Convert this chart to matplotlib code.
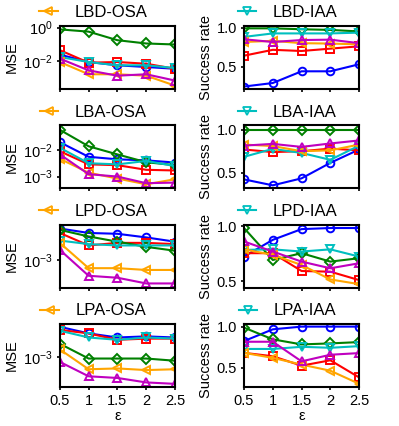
import matplotlib
matplotlib.use("Agg")
import matplotlib.pyplot as plt
from matplotlib.lines import Line2D
from matplotlib.ticker import NullLocator

plt.rcParams["font.family"] = ["Liberation Sans", "DejaVu Sans"]
plt.rcParams["mathtext.fontset"] = "custom"
plt.rcParams["mathtext.rm"] = "Liberation Sans"
plt.rcParams["mathtext.it"] = "Liberation Sans:italic"
plt.rcParams["mathtext.bf"] = "Liberation Sans:bold"

eps = [0.5, 1, 1.5, 2, 2.5]

# ---------- data ----------
# order in each dict: blue, red, green, cyan, orange, magenta
lbd_osa = {
    "blue": [0.025, 0.0091, 0.0058, 0.0046, 0.0036],
    "red": [0.046, 0.0083, 0.0091, 0.0072, 0.0036],
    "green": [0.79, 0.58, 0.18, 0.115, 0.10],
    "cyan": [0.018, 0.0091, 0.0058, 0.0058, 0.0040],
    "orange": [0.0091, 0.0017, 0.0017, 0.0014, 0.00036],
    "magenta": [0.0145, 0.0029, 0.0014, 0.0017, 0.00072],
}
lbd_iaa = {
    "blue": [0.245, 0.29, 0.44, 0.44, 0.53],
    "red": [0.64, 0.715, 0.70, 0.73, 0.76],
    "green": [0.99, 0.99, 0.978, 0.97, 0.95],
    "cyan": [0.88, 0.925, 0.925, 0.925, 0.935],
    "orange": [0.815, 0.83, 0.80, 0.795, 0.785],
    "magenta": [0.85, 0.815, 0.84, 0.845, 0.80],
}
lba_osa = {
    "blue": [0.020, 0.0056, 0.0045, 0.0041, 0.0034],
    "red": [0.0091, 0.0029, 0.0027, 0.0018, 0.0017],
    "green": [0.059, 0.014, 0.0069, 0.0035, 0.0027],
    "cyan": [0.0123, 0.0032, 0.0029, 0.0039, 0.0025],
    "orange": [0.0047, 0.0014, 0.00084, 0.00051, 0.00079],
    "magenta": [0.0069, 0.00123, 0.0010, 0.00056, 0.00059],
}
lba_iaa = {
    "blue": [0.423, 0.354, 0.435, 0.615, 0.77],
    "red": [0.77, 0.74, 0.75, 0.78, 0.76],
    "green": [1.0, 1.0, 1.0, 1.0, 1.0],
    "cyan": [0.685, 0.777, 0.73, 0.65, 0.815],
    "orange": [0.827, 0.81, 0.75, 0.76, 0.827],
    "magenta": [0.815, 0.835, 0.80, 0.84, 0.875],
}
lpd_osa = {
    "blue": [0.0036, 0.0030, 0.0029, 0.0025, 0.0021],
    "red": [0.0030, 0.0018, 0.0020, 0.0020, 0.0019],
    "green": [0.0034, 0.0026, 0.0021, 0.0017, 0.00145],
    "cyan": [0.0022, 0.0019, 0.0018, 0.0018, 0.0018],
    "orange": [0.0020, 0.00071, 0.00071, 0.00066, 0.00066],
    "magenta": [0.0015, 0.00052, 0.00048, 0.00038, 0.00038],
}
lpd_iaa = {
    "blue": [0.724, 0.877, 0.975, 0.985, 0.985],
    "red": [0.755, 0.755, 0.592, 0.586, 0.509],
    "green": [0.985, 0.693, 0.755, 0.678, 0.709],
    "cyan": [0.785, 0.79, 0.77, 0.79, 0.724],
    "orange": [0.79, 0.74, 0.647, 0.515, 0.472],
    "magenta": [0.862, 0.77, 0.678, 0.617, 0.663],
}
lpa_osa = {
    "blue": [0.0034, 0.0026, 0.0022, 0.0023, 0.0022],
    "red": [0.0030, 0.0026, 0.0020, 0.0021, 0.0021],
    "green": [0.0017, 0.00093, 0.00093, 0.00093, 0.00085],
    "cyan": [0.0029, 0.0022, 0.0020, 0.0022, 0.0021],
    "orange": [0.00135, 0.0006, 0.00062, 0.00058, 0.0006],
    "magenta": [0.00081, 0.00045, 0.00042, 0.00035, 0.00033],
}
lpa_iaa = {
    "blue": [0.825, 0.967, 1.0, 1.0, 1.0],
    "red": [0.683, 0.642, 0.528, 0.593, 0.386],
    "green": [0.988, 0.846, 0.785, 0.797, 0.813],
    "cyan": [0.73, 0.73, 0.756, 0.744, 0.764],
    "orange": [0.683, 0.622, 0.541, 0.467, 0.309],
    "magenta": [0.817, 0.817, 0.58, 0.66, 0.68],
}

titles = ["LBD-OSA", "LBD-IAA", "LBA-OSA", "LBA-IAA",
          "LPD-OSA", "LPD-IAA", "LPA-OSA", "LPA-IAA"]
panels = [lbd_osa, lbd_iaa, lba_osa, lba_iaa, lpd_osa, lpd_iaa, lpa_osa, lpa_iaa]
ylims = [(2.3e-4, 1.26), (0.215, 1.02), (3.6e-4, 0.087), (0.32, 1.05),
         (3.2e-4, 4.2e-3), (0.44, 1.015), (2.9e-4, 3.8e-3), (0.27, 1.03)]

STYLE = {
    "blue": ("b", "o"),
    "red": ("r", "s"),
    "green": ("g", "D"),
    "cyan": ("c", "v"),
    "orange": ("orange", "<"),
    "magenta": ("m", "^"),
}

fig, axes = plt.subplots(4, 2, figsize=(3.99, 4.26), dpi=100, sharex=True)
fig.subplots_adjust(left=0.150, right=0.900, top=0.939, bottom=0.0915,
                    wspace=0.6, hspace=0.58)

for i, (ax, data, title, ylim) in enumerate(zip(axes.flat, panels, titles, ylims)):
    col = i % 2
    for key, vals in data.items():
        c, m = STYLE[key]
        ax.plot(eps, vals, color=c, marker=m, ms=5.5, mfc="none", mew=1.4, lw=1.5)
    if col == 0:
        ax.set_yscale("log")
        ax.yaxis.set_minor_locator(NullLocator())
        ax.set_ylabel("MSE", fontsize=10.5, labelpad=3)
        hc, hm = STYLE["orange"]
    else:
        ax.set_yticks([0.5, 1.0])
        ax.set_yticklabels(["0.5", "1.0"])
        ax.set_ylabel("Success rate", fontsize=10.5, labelpad=3)
        hc, hm = STYLE["cyan"]
    ax.set_ylim(*ylim)
    ax.set_xlim(0.5, 2.5)
    ax.tick_params(labelsize=10.5, width=1.2, length=2, pad=3)
    for sp in ax.spines.values():
        sp.set_linewidth(1.5)
    handle = Line2D([], [], color=hc, marker=hm, ms=6, mfc="none", mew=1.3, lw=1.5)
    ax.legend([handle], [title], loc="center", frameon=False, fontsize=12,
              bbox_to_anchor=(0.29 if col == 0 else 0.378, 1.21),
              handlelength=1.1, handletextpad=1.0, borderaxespad=0)

for ax in axes[-1]:
    ax.set_xticks(eps)
    ax.set_xticklabels(["0.5", "1", "1.5", "2", "2.5"])
    ax.set_xlabel("ε", fontsize=10.5, labelpad=1)

fig.savefig("out.png", dpi=100)
